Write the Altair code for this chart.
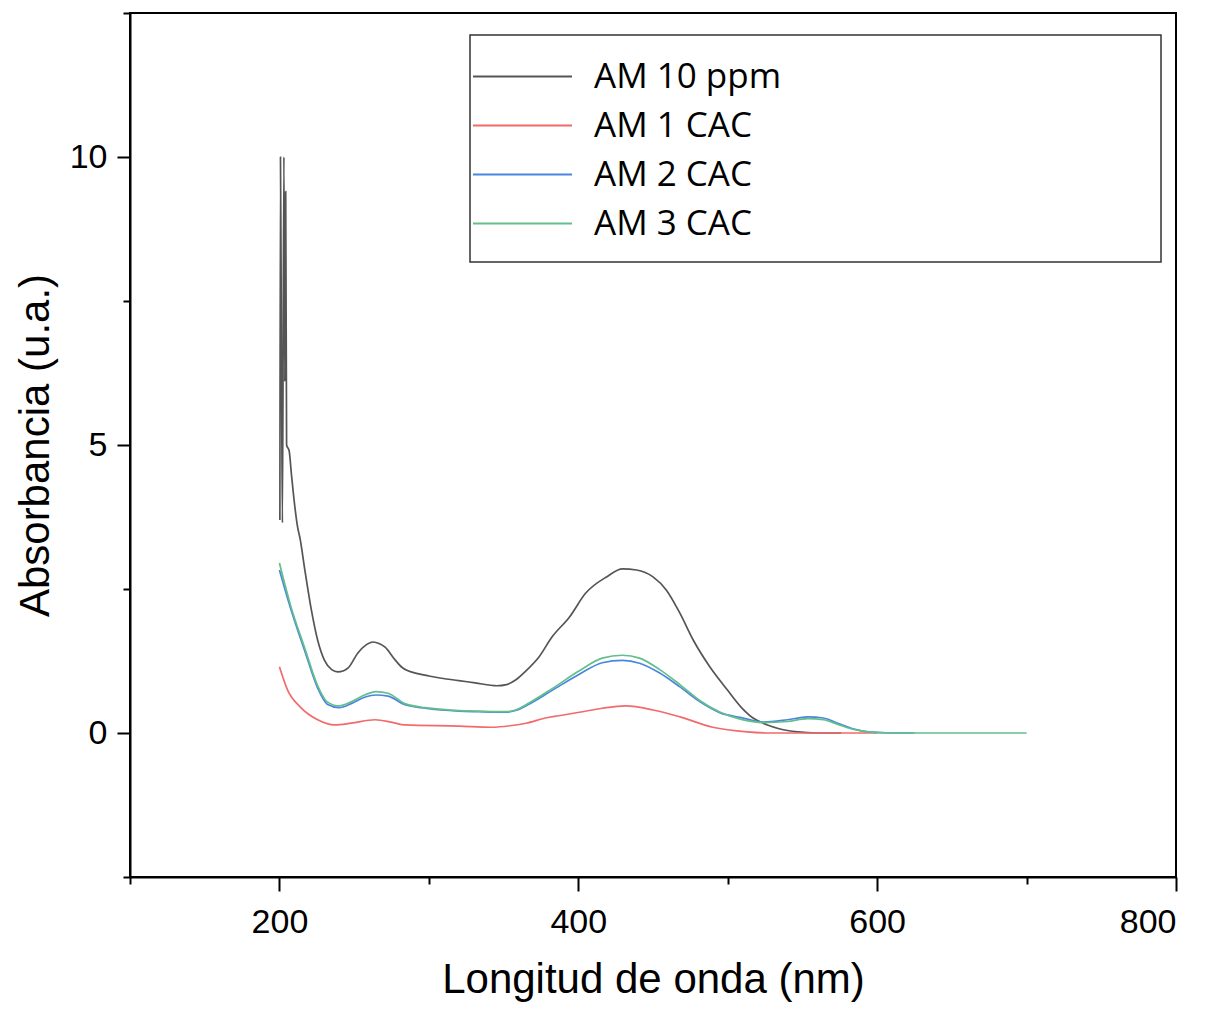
import altair as alt
import pandas as pd

series_names = ["AM 10 ppm", "AM 1 CAC", "AM 2 CAC", "AM 3 CAC"]
series_colors = ["#555555", "#f26b6b", "#4a86e0", "#62bf8a"]

am10_wl = [200.3, 200.7, 201.3, 202.0, 203.0, 203.6, 204.2, 204.8, 206.5, 208, 210, 212, 214, 217, 221,
           225.6, 230, 235, 239, 243, 246, 252.5, 258, 262.6, 267, 270.7, 277.4, 281.5, 286, 291, 300,
           308.4, 320, 331, 345.5, 352, 358, 365, 373.7, 382.5, 394, 405, 418.9, 429.6, 439, 450, 459,
           468, 477, 488, 499.7, 510, 517, 522, 526.6, 535, 546.8, 560, 576]
am10_abs = [3.7, 10.0, 6.9, 3.65, 10.0, 6.1, 9.4, 5.0, 4.9, 4.5, 4.0, 3.6, 3.35, 2.83, 2.19,
            1.61, 1.27, 1.10, 1.06, 1.08, 1.13, 1.39, 1.53, 1.58, 1.55, 1.49, 1.27, 1.15, 1.08, 1.04, 0.99,
            0.95, 0.91, 0.87, 0.82, 0.84, 0.92, 1.08, 1.32, 1.67, 2.01, 2.43, 2.71, 2.85, 2.83, 2.71, 2.48,
            2.08, 1.61, 1.15, 0.75, 0.42, 0.26, 0.19, 0.14, 0.07, 0.02, 0.0, 0.0]

am1_wl = [200, 205.4, 214, 225.6, 237, 248, 264, 274.7, 284, 320, 342, 355.6, 365, 378, 387, 400.7,
          416, 432, 450, 468, 490, 513, 530, 600]
am1_abs = [1.15, 0.75, 0.45, 0.23, 0.14, 0.17, 0.23, 0.19, 0.14, 0.12, 0.10, 0.13, 0.17, 0.26, 0.30, 0.36,
           0.43, 0.47, 0.40, 0.28, 0.10, 0.02, 0.0, 0.0]

am2_wl = [200, 207.4, 217, 225.6, 232, 240, 248, 257, 264.6, 272.7, 284, 297.6, 320, 333, 351.5, 358,
          367, 382.5, 400.7, 416, 429.6, 441, 454.5, 468, 481.5, 495, 508.4, 524, 540, 553.5, 564,
          573.7, 584.5, 594, 610, 625]
am2_abs = [2.83, 2.17, 1.42, 0.78, 0.50, 0.44, 0.51, 0.62, 0.66, 0.64, 0.49, 0.43, 0.38, 0.37, 0.36, 0.39,
           0.50, 0.74, 1.02, 1.22, 1.26, 1.21, 1.04, 0.80, 0.54, 0.35, 0.27, 0.19, 0.23, 0.28, 0.26,
           0.17, 0.07, 0.02, 0.0, 0.0]

am3_wl = [200, 207.4, 217, 225.6, 232, 240, 248, 257, 264.6, 272.7, 284, 297.6, 320, 333, 351.5, 358,
          367, 382.5, 400.7, 416, 429.6, 441, 454.5, 468, 481.5, 495, 508.4, 524, 540, 553.5, 564,
          573.7, 584.5, 594, 610, 700]
am3_abs = [2.95, 2.22, 1.47, 0.82, 0.54, 0.47, 0.54, 0.66, 0.72, 0.69, 0.51, 0.44, 0.39, 0.38, 0.37, 0.40,
           0.52, 0.77, 1.08, 1.30, 1.35, 1.30, 1.10, 0.84, 0.56, 0.36, 0.24, 0.18, 0.20, 0.25, 0.23,
           0.15, 0.06, 0.02, 0.0, 0.0]

x_major = [200, 400, 600, 800]
x_minor = [100, 300, 500, 700]
y_major = [0, 5, 10]
y_minor = [-2.5, 2.5, 7.5, 12.5]

rows = []
for name, wl, ab in zip(series_names, [am10_wl, am1_wl, am2_wl, am3_wl], [am10_abs, am1_abs, am2_abs, am3_abs]):
    for i, (w, a) in enumerate(zip(wl, ab)):
        rows.append({"serie": name, "wl": w, "absb": a, "idx": i})
df = pd.DataFrame(rows)

x_scale = alt.Scale(domain=[100, 800], nice=False, zero=False)
y_scale = alt.Scale(domain=[-2.5, 12.5], nice=False, zero=False)

lines = alt.Chart(df).mark_line(strokeWidth=1.7, clip=True, interpolate="monotone").encode(
    x=alt.X("wl:Q", scale=x_scale,
            axis=alt.Axis(values=x_major, tickSize=14, title="Longitud de onda (nm)", orient="bottom",
                          labelPadding=14, titlePadding=20)),
    y=alt.Y("absb:Q", scale=y_scale,
            axis=alt.Axis(values=y_major, tickSize=13, title="Absorbancia (u.a.)", orient="left",
                          labelPadding=10, titlePadding=12)),
    color=alt.Color("serie:N", scale=alt.Scale(domain=series_names, range=series_colors),
                    legend=alt.Legend(orient="none", legendX=369, legendY=40, title=None,
                                      symbolType="M-2.2,0H2.2", symbolSize=2025, symbolStrokeWidth=2,
                                      labelFont="Open Sans", labelFontSize=35, labelColor="black",
                                      labelOffset=48, rowPadding=7, padding=0, labelLimit=400)),
    order=alt.Order("idx:Q"),
)

minor = alt.Chart(df).mark_line(opacity=0).encode(
    x=alt.X("wl:Q", scale=x_scale,
            axis=alt.Axis(values=x_minor, tickSize=7, labels=False, domain=False, title=None, orient="bottom")),
    y=alt.Y("absb:Q", scale=y_scale,
            axis=alt.Axis(values=y_minor, tickSize=7, labels=False, domain=False, title=None, orient="left")),
    detail="serie:N",
)

box = alt.Chart(alt.Data(values=[{}])).mark_rect(fill="transparent", stroke="#333333", strokeWidth=1.5).encode(
    x=alt.value(340), x2=alt.value(1031), y=alt.value(22), y2=alt.value(249)
)

chart = alt.layer(box, lines, minor).resolve_axis(x="independent", y="independent").properties(
    width=1046, height=864,
    autosize=alt.AutoSizeParams(type="none"),
    padding={"left": 122, "top": 5, "right": 30, "bottom": 125},
).configure_axis(
    grid=False, domainColor="black", domainWidth=2, tickColor="black", tickWidth=2,
    labelFont="Liberation Sans", labelFontSize=34, labelColor="black",
    titleFont="Liberation Sans", titleFontSize=42, titleFontWeight="normal", titleColor="black",
).configure_view(stroke="black", strokeWidth=2)

chart.save("out.html", embed_options={"renderer": "svg", "actions": False})
